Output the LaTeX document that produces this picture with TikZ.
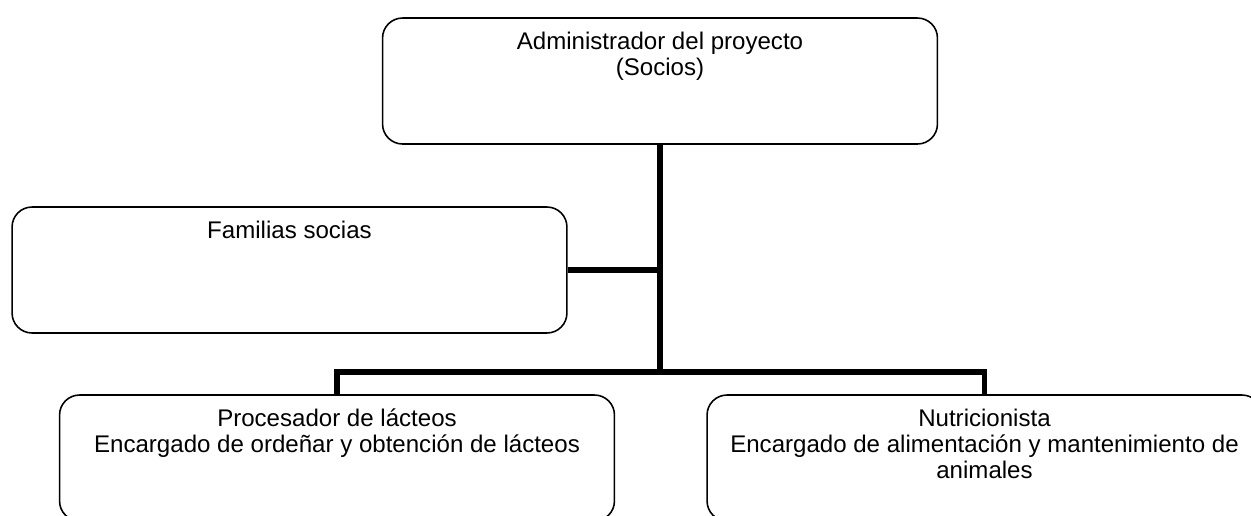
\documentclass[tikz,border=0pt]{standalone}
\usepackage{fontspec}
\setmainfont{Liberation Sans}
\usetikzlibrary{positioning}

\begin{document}
\begin{tikzpicture}[x=0.02cm, y=-0.02cm, font=\fontsize{13.7}{15}\selectfont,
		box/.style={rectangle, draw, line width=0.9pt, rounded corners=0.4cm, minimum width=11.1cm, minimum height=2.52cm},
		txt/.style={align=center, inner sep=0pt},
		conn/.style={line width=3.4pt}]
		\useasboundingbox (0,0) rectangle (1251,515);
		\clip (0,0) rectangle (1251,515);
		% Place nodes
		\node [box] (adm) at (660,81) {};
		\node [box] (fam) at (289.5,270) {};
		\node [box] (proc) at (337,458) {};
		\node [box] (nutri) at (984.5,458) {};
		
		\node [txt, below=0.28cm of adm.north] (admtxt) {Administrador del proyecto\\(Socios)};
		\node [txt, below=0.28cm of fam.north] (famtxt) {Familias socias};
		\node [txt, below=0.28cm of proc.north] (proctxt) {Procesador de lácteos\\Encargado de ordeñar y obtención de lácteos};
		\node [txt, below=0.28cm of nutri.north] (nutritxt) {Nutricionista\\Encargado de alimentación y mantenimiento de\\animales};
		
		% Connectors
		\coordinate (bus) at (660,372);
		\draw [conn] (adm.south) -- (bus);
		\draw [conn] (fam.east) -- (fam.east -| adm.south);
		\draw [conn] (proc.north) -- (proc.north |- bus) -- (nutri.north |- bus) -- (nutri.north);
	\end{tikzpicture}
\end{document}
